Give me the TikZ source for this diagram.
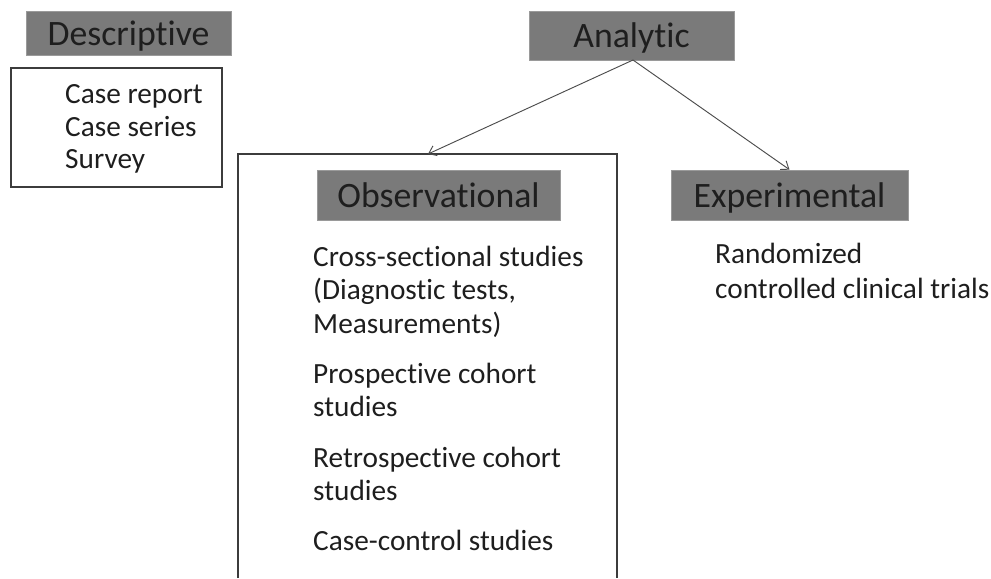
\documentclass[tikz,border=0pt]{standalone}
\usepackage{fontspec}
\setmainfont{Carlito}[Ligatures=NoCommon]
\usetikzlibrary{arrows.meta}
\definecolor{hdrfill}{HTML}{7A7A7A}
\definecolor{hdredge}{HTML}{9A9A9A}
\definecolor{boxedge}{HTML}{3C3C3C}
\definecolor{txt}{HTML}{1E1E1E}
\tikzset{
  hdr/.style={draw=hdredge, line width=0.6pt, fill=hdrfill, text=txt, inner sep=0pt, text height=24pt, text depth=3.2pt, font=\fontsize{30.5}{34}\selectfont},
  item/.style={anchor=west, inner sep=0pt, text=txt, text height=22pt, text depth=3.7pt, font=\fontsize{25}{28.2}\selectfont, align=left},
  frame/.style={draw=boxedge, line width=1.6pt},
  conn/.style={draw=black!70, line width=0.8pt, -{Straight Barb[length=6pt,width=9pt]}}
}
\begin{document}
\begin{tikzpicture}[x=0.03cm,y=-0.03cm]
\useasboundingbox (0,0) rectangle (991,578);
% Descriptive
\node[hdr, minimum width=205*0.03cm, minimum height=44*0.03cm] (desc) at (128.5,33) {Descriptive};
\draw[frame] (11,68) rectangle (222,187);
\node[item] (dl1) at (65,93) {Case report};
\node[item] (dl2) at (65,126) {Case series};
\node[item] (dl3) at (65,158) {Survey};
% Analytic
\node[hdr, minimum width=205*0.03cm, minimum height=49*0.03cm] (ana) at (631.5,35.5) {Analytic};
% Observational frame (open at bottom)
\coordinate (obsTL) at (238,154);
\coordinate (obsTop) at (428,154);
\draw[frame] (238,578) -- (obsTL) -- (617,154) -- (617,578);
\node[hdr, minimum width=243*0.03cm, minimum height=50*0.03cm] (obs) at (438.5,195) {Observational};
\node[hdr, minimum width=237*0.03cm, minimum height=50*0.03cm] (exp) at (789.5,195) {Experimental};
% items
\node[item] (o1) at (313,256) {Cross-sectional studies};
\node[item] (o2) at (313,289) {(Diagnostic tests,};
\node[item] (o3) at (313,323) {Measurements)};
\node[item] (o4) at (313,373) {Prospective cohort};
\node[item] (o5) at (313,406) {studies};
\node[item] (o6) at (313,457) {Retrospective cohort};
\node[item] (o7) at (313,490) {studies};
\node[item] (o8) at (313,540) {Case-control studies};
\node[item] (e1) at (715,253) {Randomized};
\node[item] (e2) at (715,288) {controlled clinical trials};
% connectors
\coordinate (anaB) at (633,60);
\draw[conn] (anaB) -- (obsTop);
\draw[conn] (anaB) -- (exp.north);
\end{tikzpicture}
\end{document}
